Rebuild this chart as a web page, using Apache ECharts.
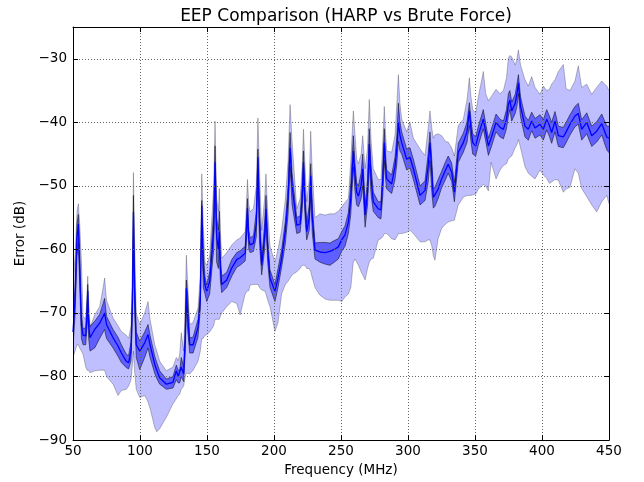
<!DOCTYPE html>
<html>
<head>
<meta charset="utf-8">
<script src="https://cdn.jsdelivr.net/npm/echarts@6/dist/echarts.min.js"></script>
<style>html,body{margin:0;padding:0;background:#fff}#c{width:644px;height:482px}</style>
</head>
<body>
<div id="c"></div>
<script>
const freq = [
  50, 51.5, 53, 54, 55, 56.3, 57.5, 59.5, 60.5, 61,
  61.7, 62.7, 66.2, 69.9, 72.5, 73.6, 75, 79.9, 83.6, 86.1,
  89.8, 91.5, 93.3, 94.4, 95.1, 95.9, 97.2, 99.8, 103.5, 106,
  107.5, 111, 112.5, 114.7, 119.7, 124.6, 127.1, 128.5, 129.6, 130.8,
  132.6, 133.8, 134.6, 135.5, 137.1, 139.6, 143.3, 145, 146.1, 147.2,
  148.5, 149.8, 152, 155, 156, 157.2, 158.5, 159.2, 160, 161,
  164.7, 168.5, 172.2, 174.7, 178.5, 180.2, 181.2, 182.2, 184.7, 186.8,
  188, 189.2, 190.8, 193, 194, 195.3, 197, 200.7, 203, 205.7,
  208.5, 210.5, 212, 213.5, 217, 219.5, 221, 222, 223.2, 224.4,
  226.3, 227.4, 228.6, 230.6, 234.3, 238, 241.8, 245, 248, 250.5,
  253, 255.5, 257.3, 259.2, 260.5, 261.7, 263, 265, 266.2, 268,
  269.8, 271.1, 272.5, 274.1, 277.8, 279.8, 281.2, 282.3, 283.3, 284.1,
  287.8, 290.3, 291.7, 292.8, 294, 295.3, 299, 301.5, 304, 309,
  312.7, 315, 316.4, 317.8, 318.9, 320.1, 322.5, 325.1, 328, 330,
  332.6, 334.6, 337.5, 341.3, 344, 345.8, 347, 348.3, 350.5, 352.5,
  356.2, 358, 360, 362, 365.7, 368.7, 371.2, 373.5, 374.9, 376,
  377.4, 380, 381.3, 382.4, 384, 387.3, 389.8, 392.3, 394.8, 398.5,
  401, 403.5, 405.5, 407.2, 409.7, 412.2, 415.9, 418, 420.9, 424.6,
  427.1, 429.6, 433.4, 437.1, 440.8, 444.6, 448.3, 450
];
const meanDb = [
  -73, -68, -58, -56, -63, -72, -73.5, -73.6, -70, -66.5,
  -72, -73.9, -72.6, -71.6, -70.5, -70, -71.8, -73.9, -75.2, -76.3,
  -77.6, -77.8, -76, -68, -54.1, -66, -75, -76, -74.7, -73.4,
  -75, -78.1, -79, -80.2, -81.2, -80.9, -79.1, -80, -79.9, -78.5,
  -79.6, -74, -66.1, -70, -75, -75, -72.3, -68, -53.1, -63,
  -65.6, -66.6, -65, -57, -46.3, -58, -60, -57.2, -63, -65.5,
  -64.8, -62.9, -61.6, -61.3, -60.6, -53.5, -58.5, -59.3, -59, -56,
  -45.5, -56, -62.5, -58, -53.6, -60, -64.5, -66.6, -64.5, -61.4,
  -57, -52, -44, -50, -56.2, -56, -52, -46.3, -53, -57.2,
  -55, -48.4, -55, -60.1, -60.4, -60.5, -60.3, -60, -59.6, -58.5,
  -57.7, -55.7, -52, -44.5, -48.5, -51, -51.6, -50, -47.3, -54.6,
  -51, -43.4, -49, -52.5, -53.6, -53.8, -49, -43.2, -47, -48.9,
  -49.7, -47, -44, -40, -42, -43.2, -45.8, -45.5, -47.3, -51.5,
  -50.7, -47, -43.2, -48, -51.8, -51.5, -50.5, -48.9, -47.5, -46.6,
  -47.8, -51, -44.7, -43.2, -41.5, -38.2, -41, -43.2, -43.7, -42,
  -39.5, -41.5, -43.7, -42.5, -40, -40.8, -41.1, -39.5, -37.2, -36.5,
  -38.2, -37, -35.5, -33.8, -37.5, -40.6, -41.1, -39.8, -40.9, -40.3,
  -41.1, -39.5, -40.5, -41.6, -39.8, -42.1, -42.3, -41.5, -40.3, -39,
  -38.6, -41.1, -40, -42.1, -41.4, -40.2, -42.3, -42.5
];
const innerLow = [
  -75.5, -70.5, -61, -59, -65.5, -74, -75, -75, -72, -70,
  -74, -76, -75.5, -74, -73, -72.6, -74, -75.5, -76.8, -77.8,
  -78.6, -78.8, -77.5, -70, -57, -69, -77, -78.9, -77, -75.5,
  -77, -79.5, -80.3, -81.2, -82, -81.8, -80.5, -81, -81, -80,
  -80.8, -76, -69, -72.5, -76.3, -76.3, -73.8, -69.5, -56, -66,
  -67, -68.2, -67, -60, -50, -62, -63, -60, -65, -66.8,
  -66, -64.2, -62.8, -62.5, -61.8, -56, -60, -60.5, -60.3, -58,
  -49, -59, -64, -60, -56, -62, -66, -68.2, -66, -62.8,
  -59, -54.5, -47, -53, -57.5, -57.3, -54, -49.5, -55, -58.5,
  -57, -51.5, -57.5, -61.5, -62, -62.3, -62.5, -62, -61.5, -60.3,
  -59.5, -57.5, -54.5, -47, -51, -53, -53.3, -52, -50, -56.5,
  -53, -46.5, -51.5, -54, -55, -55.2, -51.5, -46, -49, -50.5,
  -51.2, -49, -46.5, -43, -44.5, -45, -47.5, -47.2, -49, -53,
  -52.3, -49.5, -46, -51, -53.5, -53.2, -52, -50.3, -49, -48,
  -49.3, -52.5, -46.3, -44.7, -43.2, -40.5, -43, -45, -45.3, -43.6,
  -41, -43, -45.2, -44, -41.5, -42.3, -42.6, -41, -39, -38,
  -39.8, -38.6, -37.5, -35.5, -39.2, -42.3, -42.8, -41.3, -42.5, -42,
  -42.8, -41.2, -42.2, -43.3, -41.5, -43.8, -44, -43.2, -42, -40.7,
  -40.3, -42.8, -41.8, -43.8, -43.1, -42, -44.3, -44.8
];
const innerHigh = [
  -71, -66, -56, -54.5, -60, -70, -72.5, -72.3, -68, -65.5,
  -70.5, -72.1, -71.3, -70.2, -68.5, -67.7, -70.5, -72.6, -73.8, -75,
  -76.5, -76.7, -74.5, -66, -51.5, -63, -73, -74.4, -73, -71.8,
  -73.5, -76.8, -77.8, -79.1, -80.4, -80, -78.2, -79, -79, -77,
  -78.5, -72, -64.8, -67, -73.9, -73.8, -71, -66.5, -52.3, -60,
  -64.3, -65.6, -63.5, -54, -43.7, -55, -57, -54, -61, -64.2,
  -63.6, -61.6, -60.5, -60.2, -59.5, -52, -57, -58.2, -57.8, -54,
  -44.2, -53, -61.5, -56, -51.5, -58, -63.2, -65.5, -63, -60,
  -55.5, -50, -41.6, -48, -55, -54.7, -50, -44.5, -51, -55.8,
  -53, -46.5, -53, -59, -58.9, -58.9, -59, -58.6, -58.3, -57.2,
  -56.3, -54.2, -49.5, -42.1, -46.5, -49.5, -50, -48, -45, -53,
  -49, -41, -47, -51, -52.5, -52.5, -47, -41, -45, -47.5,
  -48.3, -45.5, -42, -37, -40, -41.5, -44.2, -44, -45.8, -50,
  -49.2, -45, -41.5, -46, -50.5, -50.2, -49, -47.7, -46.2, -45.3,
  -46.4, -49.5, -43.3, -41.7, -40, -36.9, -39.5, -41.8, -42.3, -40.6,
  -38, -40.2, -42.5, -41.2, -38.7, -39.5, -39.8, -38, -35.5, -35,
  -36.8, -35.6, -34, -32.5, -36, -39, -39.7, -38.4, -39.4, -38.8,
  -39.6, -38, -39, -40, -38.3, -40.6, -40.8, -40, -38.8, -37.5,
  -37, -39.6, -38.5, -40.6, -39.9, -38.7, -40.6, -40.6
];
const outerLow = [
  -77, -76, -75, -75, -75.5, -76, -76.5, -78.5, -79, -79,
  -79, -79.4, -79.1, -79, -79, -79, -80, -81.2, -83, -82.2,
  -82, -81.5, -80.5, -78, -76, -79, -82, -83.3, -83, -84,
  -85, -88, -88.7, -88.2, -86.4, -84.3, -83.5, -83, -82.8, -82,
  -81.5, -80, -79.5, -79.5, -79.6, -79, -77.6, -76, -74, -74,
  -73.5, -73.4, -73, -72, -71, -71, -71, -71, -70.5, -70,
  -69, -68.2, -68.5, -70.3, -67, -66.5, -66.5, -65.6, -65.5, -65.5,
  -65.5, -66, -66.4, -66.5, -67, -68, -69, -72.9, -71.5, -67,
  -65.5, -65, -64.5, -64, -63.5, -63, -62.5, -62.5, -62.5, -63,
  -63, -63.5, -64.5, -66, -67.2, -67.8, -68, -68, -68, -68.2,
  -67.5, -67, -66, -62, -61.5, -62, -62.5, -63.5, -64, -64.8,
  -63, -62, -61.5, -61.4, -58.5, -58.3, -58, -57.5, -57.5, -57.5,
  -58.3, -58.5, -58, -57.5, -57.5, -57.5, -57.3, -57, -57.5, -58.8,
  -58.8, -58.5, -58.5, -59.5, -61, -61.7, -58.3, -56.7, -56, -55.7,
  -55.5, -55.4, -53, -51.8, -51.5, -51.5, -51.5, -51.4, -51.3, -50.5,
  -49.8, -50, -50.8, -46.3, -48.9, -47.5, -46.8, -46.5, -45.8, -45.5,
  -45.3, -44, -43.5, -42.7, -44, -47, -48, -48.5, -48.9, -47.5,
  -48.3, -48.8, -49.6, -49.4, -49, -49.1, -51, -50.5, -50.2, -47.3,
  -48, -50.4, -51.7, -53, -54.1, -52.5, -51.5, -52.8
];
const outerHigh = [
  -65.5, -61, -54, -52.8, -56, -62, -70.5, -71, -67, -64.2,
  -68, -72.3, -70.3, -69, -66, -64.5, -68, -70.8, -72, -72.9,
  -73.5, -74, -72, -62, -47.9, -58, -70, -71.8, -70, -68.2,
  -71, -75, -76, -77.6, -79.1, -78.5, -77, -77.5, -76.5, -73.1,
  -76, -68, -60.9, -65, -71.8, -71.5, -69.2, -64, -48.1, -56,
  -62, -62.5, -61, -50, -39.8, -52, -54, -50.4, -57, -61.4,
  -60.5, -59.3, -58.5, -58.2, -57.2, -49, -53, -54.1, -53.5, -50,
  -39.3, -48, -57, -52, -48.1, -54, -59.5, -62, -60, -57,
  -52, -46, -37.2, -43, -53.6, -52, -47, -41.1, -47, -52.5,
  -49, -41.4, -48, -55, -54.4, -54.6, -54.4, -54.4, -54, -53.3,
  -52.6, -52, -46, -38.2, -42, -45.8, -46.5, -45, -42.1, -47.3,
  -44, -36.4, -43, -47.3, -49, -49, -43, -37.5, -42, -44.5,
  -44.7, -42, -37, -32.5, -37, -39.5, -41.5, -40, -42.5, -44.2,
  -45.2, -41, -38.2, -41, -42.5, -42, -41.8, -42.1, -43, -43.1,
  -44, -45.3, -40.5, -39.5, -36.5, -33, -36, -38, -38.5, -36,
  -32, -35.5, -36.6, -36, -34.8, -35.5, -35, -33, -29.9, -29.5,
  -29.7, -31, -30, -28.6, -31, -33.3, -34.3, -32.8, -34.5, -35.6,
  -34.3, -35, -34.8, -34, -33.3, -32, -30.9, -34.7, -35, -33.5,
  -31.1, -34.5, -34, -35.6, -34.5, -33.5, -34.3, -35
];
const xTicks = [50, 100, 150, 200, 250, 300, 350, 400, 450];
const yTicks = [-90, -80, -70, -60, -50, -40, -30];

const FONT = 'DejaVu Sans';
const chart = echarts.init(document.getElementById('c'), null, {renderer: 'canvas'});

function band(lo, hi, fill, edge, z) {
  return {
    type: 'custom', xAxisIndex: 0, yAxisIndex: 0, clip: true, silent: true, z: z,
    data: [[freq[0], lo[0]]],
    encode: {x: 0, y: 1},
    renderItem: function (params, api) {
      const up = freq.map((f, i) => api.coord([f, hi[i]]));
      const dn = freq.map((f, i) => api.coord([f, lo[i]]));
      const poly = up.concat(dn.slice().reverse());
      return {
        type: 'group',
        children: [
          {type: 'polygon', shape: {points: poly}, style: {fill: fill}},
          {type: 'polyline', shape: {points: up}, style: {fill: 'none', stroke: edge, lineWidth: 1}},
          {type: 'polyline', shape: {points: dn}, style: {fill: 'none', stroke: edge, lineWidth: 1}}
        ]
      };
    }
  };
}

const minus = v => (v < 0 ? '\u2212' + Math.abs(v) : String(v));
const commonX = {
  type: 'value', min: xTicks[0], max: xTicks[xTicks.length - 1], interval: 50, z: 5,
  axisLine: {show: true, lineStyle: {color: '#000', width: 1}},
  axisTick: {show: true, inside: true, length: 5, lineStyle: {color: '#000'}},
  splitLine: {show: false}
};
const commonY = {
  type: 'value', min: yTicks[0], max: -25, interval: 10, z: 5,
  axisLine: {show: true, lineStyle: {color: '#000', width: 1}},
  axisTick: {show: true, inside: true, length: 5, lineStyle: {color: '#000'}},
  splitLine: {show: false}
};

chart.setOption({
  animation: false,
  backgroundColor: '#fff',
  textStyle: {fontFamily: FONT},
  title: {
    text: 'EEP Comparison (HARP vs Brute Force)',
    left: 341, top: 3, textAlign: 'center',
    textStyle: {fontFamily: FONT, fontSize: 17, fontWeight: 'normal', color: '#000'}
  },
  grid: {left: 73, right: 35, top: 27, bottom: 39, containLabel: false},
  xAxis: [
    Object.assign({}, commonX, {
      position: 'bottom',
      name: 'Frequency (MHz)', nameLocation: 'middle', nameGap: 21,
      nameTextStyle: {fontFamily: FONT, fontSize: 13.5, color: '#000'},
      axisLabel: {show: true, color: '#000', fontSize: 13.5, fontFamily: FONT, margin: 4},
      splitLine: {show: true, lineStyle: {color: '#666', width: 1, type: [1, 2]}}
    }),
    Object.assign({}, commonX, {position: 'top', axisLabel: {show: false}})
  ],
  yAxis: [
    Object.assign({}, commonY, {
      position: 'left',
      name: 'Error (dB)', nameLocation: 'middle', nameGap: 38,
      nameTextStyle: {fontFamily: FONT, fontSize: 13.5, color: '#000'},
      axisLabel: {show: true, color: '#000', fontSize: 13.5, fontFamily: FONT, margin: 6,
        showMaxLabel: false, formatter: minus},
      splitLine: {show: true, lineStyle: {color: '#666', width: 1, type: [1, 2]}}
    }),
    Object.assign({}, commonY, {position: 'right', axisLabel: {show: false}})
  ],
  series: [
    band(outerLow, outerHigh, 'rgba(0,0,255,0.25)', 'rgba(0,0,0,0.25)', 1),
    band(innerLow, innerHigh, 'rgba(0,0,255,0.5)', 'rgba(0,0,0,0.5)', 2),
    {
      type: 'line', xAxisIndex: 0, yAxisIndex: 0, z: 3,
      data: freq.map((f, i) => [f, meanDb[i]]),
      showSymbol: false, symbol: 'none', silent: true,
      lineStyle: {color: '#0000ff', width: 1.3}
    }
  ]
});
</script>
</body>
</html>
